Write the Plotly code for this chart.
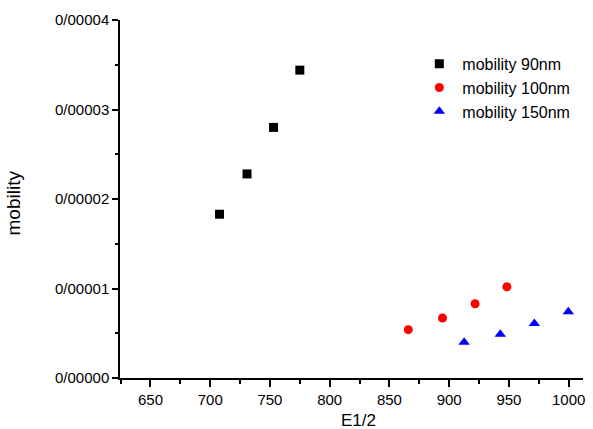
import plotly.graph_objects as go

# Field strength (E^1/2) and mobility for three film thicknesses
e_90 = [707.8, 730.8, 753.0, 775.0]
mob_90 = [1.83e-5, 2.28e-5, 2.80e-5, 3.44e-5]

e_100 = [865.8, 894.4, 921.7, 948.3]
mob_100 = [0.54e-5, 0.67e-5, 0.83e-5, 1.02e-5]

e_150 = [912.5, 942.8, 971.3, 999.7]
mob_150 = [0.40e-5, 0.49e-5, 0.61e-5, 0.74e-5]

series_names = ["mobility 90nm", "mobility 100nm", "mobility 150nm"]

y_tick_vals = [0, 1e-5, 2e-5, 3e-5, 4e-5]
y_tick_text = ["0/00000", "0/00001", "0/00002", "0/00003", "0/00004"]
x_tick_vals = [650, 700, 750, 800, 850, 900, 950, 1000]

FONT = "Liberation Sans, Arial, sans-serif"

fig = go.Figure()
fig.add_trace(go.Scatter(x=e_90, y=mob_90, mode="markers", name=series_names[0],
                         marker=dict(symbol="square", size=9, color="black")))
fig.add_trace(go.Scatter(x=e_100, y=mob_100, mode="markers", name=series_names[1],
                         marker=dict(symbol="circle", size=9, color="#ff0000")))
fig.add_trace(go.Scatter(x=e_150, y=mob_150, mode="markers", name=series_names[2],
                         marker=dict(symbol="triangle-up", size=10, color="#0000ff")))

fig.update_layout(
    width=593, height=429,
    margin=dict(l=120, r=8, t=20, b=51),
    paper_bgcolor="white", plot_bgcolor="white",
    font=dict(family=FONT, color="black"),
    showlegend=True,
    legend=dict(x=0.64, y=0.925, xanchor="left", yanchor="top",
                bgcolor="rgba(0,0,0,0)", font=dict(size=16, family=FONT),
                itemwidth=36, tracegroupgap=0),
    xaxis=dict(range=[624.5, 1012], showgrid=False, zeroline=False,
               showline=True, linecolor="black", linewidth=1.5,
               ticks="outside", ticklen=7, tickwidth=1.5, tickcolor="black",
               tickvals=x_tick_vals, tickfont=dict(size=15),
               minor=dict(dtick=25, ticks="outside", ticklen=4, tickwidth=1.5,
                          tickcolor="black", showgrid=False)),
    yaxis=dict(range=[0, 4e-5], showgrid=False, zeroline=False,
               showline=True, linecolor="black", linewidth=1.5,
               ticks="outside", ticklen=6, tickwidth=1.5, tickcolor="black",
               tickvals=y_tick_vals, ticktext=y_tick_text, tickfont=dict(size=15),
               minor=dict(dtick=0.5e-5, ticks="outside", ticklen=3, tickwidth=1.5,
                          tickcolor="black", showgrid=False)),
    annotations=[
        dict(text="E1/2", xref="paper", yref="paper",
             x=(360 - 120) / 465, y=-(420 - 378) / 358,
             xanchor="center", yanchor="middle", showarrow=False,
             font=dict(size=17, family=FONT)),
        dict(text="mobility", xref="paper", yref="paper",
             x=-(120 - 13) / 465, y=(378 - 203) / 358,
             xanchor="center", yanchor="middle", showarrow=False, textangle=-90,
             font=dict(size=19, family=FONT)),
    ],
)

fig.write_html("out.html")
